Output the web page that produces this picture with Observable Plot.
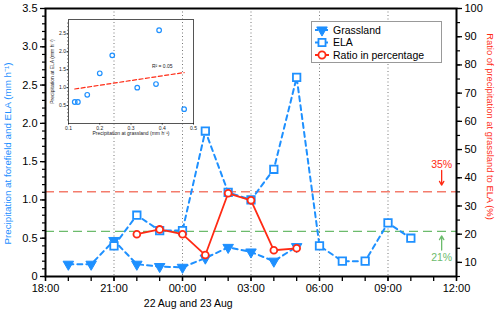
<!DOCTYPE html>
<html><head><meta charset="utf-8">
<script src="https://cdn.jsdelivr.net/npm/d3@7"></script>
<script src="https://cdn.jsdelivr.net/npm/@observablehq/plot@0.6"></script>
<style>
body{margin:0;background:#fff;font-family:"Liberation Sans",Arial,sans-serif;}
#wrap{position:relative;width:500px;height:312px;overflow:hidden;}
#main{position:absolute;left:0;top:0;}
#inset{position:absolute;left:43px;top:14px;}
#legend{position:absolute;left:311px;top:21px;width:129px;height:40px;border:1px solid #999;background:#fff;box-sizing:content-box;}
</style>
</head><body>
<div id="wrap"><div id="main"></div><div id="inset"></div><div id="legend"></div></div>
<script>
// ---- data ----
const grassHours = [19, 20, 21, 22, 23, 24, 25, 26, 27, 28, 29];
const grassland  = [0.16, 0.16, 0.47, 0.16, 0.13, 0.12, 0.24, 0.38, 0.32, 0.20, 0.39];
const elaHours   = [21, 22, 23, 24, 25, 26, 27, 28, 29, 30, 31, 32, 33, 34];
const ela        = [0.4, 0.8, 0.6, 0.6, 1.9, 1.1, 1.0, 1.4, 2.6, 0.4, 0.2, 0.2, 0.7, 0.5];
const ratioHours = [22, 23, 24, 25, 26, 27, 28, 29];
const ratio      = [20, 21.7, 20, 12.6, 34.5, 32, 14.3, 15];
const thresholds = [35, 21];
const xTicks = [18, 21, 24, 27, 30, 33, 36];
const gridHours = [21, 24, 27, 30, 33];
const leftTicks = [0, 0.5, 1, 1.5, 2, 2.5, 3, 3.5];
const rightTicks = [10, 20, 30, 40, 50, 60, 70, 80, 90, 100];
const insetXTicks = [0.1, 0.2, 0.3, 0.4, 0.5];
const insetYTicks = [0.5, 1.0, 1.5, 2.0, 2.5];
const rSquaredLabel = "R\u00b2 = 0.05";

const BLUE = "#1e90ff", RED = "#ff2a14", SALMON = "#f47c6c", GREEN = "#6cbb6c";
const rightDomain = [5, 100], leftDomain = [0, 3.5];
const toLeft = r => (r - rightDomain[0]) / (rightDomain[1] - rightDomain[0]) * (leftDomain[1] - leftDomain[0]);
const fromLeft = v => v / (leftDomain[1] - leftDomain[0]) * (rightDomain[1] - rightDomain[0]) + rightDomain[0];
const fmtHour = h => String(h % 24).padStart(2, "0") + ":00";

const grassRows = grassHours.map((h, i) => ({h, v: grassland[i]}));
const elaRows = elaHours.map((h, i) => ({h, v: ela[i]}));
const ratioRows = ratioHours.map((h, i) => ({h, v: toLeft(ratio[i])}));

const triDown = {
  draw(ctx, size) {
    const a = Math.sqrt(4 * size / Math.sqrt(3)), hh = Math.sqrt(3) / 2 * a;
    ctx.moveTo(-a / 2, -hh / 3); ctx.lineTo(a / 2, -hh / 3); ctx.lineTo(0, 2 * hh / 3); ctx.closePath();
  }
};

const main = Plot.plot({
  width: 500, height: 312,
  marginLeft: 45, marginRight: 44, marginTop: 8, marginBottom: 36,
  style: {fontFamily: "Liberation Sans, Arial, sans-serif", fontSize: "11px", color: "black", background: "transparent", overflow: "visible"},
  x: {domain: [18, 36], label: null},
  y: {domain: leftDomain, label: null},
  marks: [
    Plot.ruleX(gridHours, {stroke: "#777", strokeDasharray: "1,2.5", strokeWidth: 1}),
    Plot.ruleY([toLeft(thresholds[0])], {stroke: SALMON, strokeDasharray: "9,5", strokeWidth: 1.5}),
    Plot.ruleY([toLeft(thresholds[1])], {stroke: GREEN, strokeDasharray: "9,5", strokeWidth: 1.3}),
    Plot.line(grassRows, {x: "h", y: "v", stroke: BLUE, strokeWidth: 2, strokeDasharray: "5,4"}),
    Plot.line(elaRows, {x: "h", y: "v", stroke: BLUE, strokeWidth: 2, strokeDasharray: "5,4"}),
    Plot.dot(grassRows, {x: "h", y: "v", symbol: triDown, r: 3.9, fill: BLUE, stroke: BLUE, strokeWidth: 1}),
    Plot.dot(elaRows, {x: "h", y: "v", symbol: "square", r: 4.2, fill: "white", stroke: BLUE, strokeWidth: 1.8}),
    Plot.line(ratioRows, {x: "h", y: "v", stroke: RED, strokeWidth: 1.8}),
    Plot.dot(ratioRows, {x: "h", y: "v", symbol: "circle", r: 3.4, fill: "white", stroke: RED, strokeWidth: 1.8}),
    // threshold annotations
    Plot.text([thresholds[0] + "%"], {x: 35.35, y: toLeft(44.7), fill: RED, fontSize: 10.5}),
    Plot.arrow([0], {x1: 35.35, y1: toLeft(42.6), x2: 35.35, y2: toLeft(37.4), stroke: RED, strokeWidth: 1.3, headLength: 5}),
    Plot.text([thresholds[1] + "%"], {x: 35.35, y: toLeft(11.8), fill: GREEN, fontSize: 10.5}),
    Plot.arrow([0], {x1: 35.35, y1: toLeft(14.4), x2: 35.35, y2: toLeft(19.4), stroke: GREEN, strokeWidth: 1.3, headLength: 5}),
    // axes
    Plot.axisX({ticks: xTicks, tickFormat: fmtHour, tickSize: 5, tickPadding: 3, stroke: "black", strokeWidth: 1.3}),
    Plot.axisX({ticks: d3.range(18, 37, 1), tickFormat: () => "", tickSize: 5, stroke: "black", strokeWidth: 1.3}),
    Plot.axisY({ticks: leftTicks, tickFormat: d => d === 0 ? "0" : d.toFixed(1), tickSize: 5, tickPadding: 3, stroke: "black", strokeWidth: 1.3}),
    Plot.axisY({ticks: d3.range(0, 35).map(i => i / 10), tickFormat: () => "", tickSize: 3, stroke: "black", strokeWidth: 1.2}),
    Plot.axisY({anchor: "right", ticks: rightTicks.map(toLeft), tickFormat: d => String(Math.round(fromLeft(d))), tickSize: 5, tickPadding: 3, stroke: "black", strokeWidth: 1.3}),
    Plot.axisY({anchor: "right", ticks: d3.range(5, 101, 5).map(toLeft), tickFormat: () => "", tickSize: 3, stroke: "black", strokeWidth: 1.2}),
    Plot.frame({stroke: "black", strokeWidth: 2}),
    // axis titles
    Plot.text(["Precipitation at forefield and ELA (mm h\u207b\u00b9)"], {frameAnchor: "left", textAnchor: "middle", lineAnchor: "middle", rotate: -90, dx: -38, dy: 11, fill: BLUE, fontSize: 9.8}),
    Plot.text(["Ratio of precipitation at grassland to ELA (%)"], {frameAnchor: "right", textAnchor: "middle", lineAnchor: "middle", rotate: 90, dx: 34, dy: -16, fill: RED, fontSize: 9.4}),
    Plot.text(["22 Aug and 23 Aug"], {x: 24.25, frameAnchor: "bottom", lineAnchor: "middle", dy: 27, fill: "black", fontSize: 10.5})
  ]
});
document.getElementById("main").appendChild(main);

// ---- inset scatter ----
const pairs = elaHours.slice(0, 9).map((h, i) => ({g: grassland[grassHours.indexOf(h)], e: ela[i]}));
const inset = Plot.plot({
  width: 155, height: 127,
  marginLeft: 25, marginRight: 5, marginTop: 5, marginBottom: 18,
  style: {fontFamily: "Liberation Sans, Arial, sans-serif", fontSize: "5px", color: "#222", background: "transparent", overflow: "visible"},
  x: {domain: [0.1, 0.5], label: null},
  y: {domain: [0, 2.9], label: null},
  marks: [
    Plot.frame({stroke: "#555", strokeWidth: 1}),
    Plot.linearRegressionY(pairs, {x: "g", y: "e", stroke: RED, strokeDasharray: "4,2.5", strokeWidth: 1.2, ci: 0}),
    Plot.dot(pairs, {x: "g", y: "e", r: 2.3, stroke: BLUE, strokeWidth: 1.2, fill: "none"}),
    Plot.axisX({ticks: insetXTicks, tickFormat: d => d.toFixed(1), tickSize: 1.5, tickPadding: 1, fontSize: 5}),
    Plot.axisY({ticks: insetYTicks, tickFormat: d => d.toFixed(1), tickSize: 1.5, tickPadding: 1, fontSize: 5}),
    Plot.axisY({ticks: d3.range(1, 29).map(i => i / 10), tickFormat: () => "", tickSize: 1, strokeWidth: 0.6}),
    Plot.text([rSquaredLabel], {x: 0.4, y: 1.6, fontSize: 5, fill: "#222"}),
    Plot.text(["Precipitation at grassland (mm h\u207b\u00b9)"], {frameAnchor: "bottom", lineAnchor: "middle", dy: 10, fontSize: 5, fill: "#222"}),
    Plot.text(["Precipitation at ELA (mm h\u207b\u00b9)"], {frameAnchor: "left", textAnchor: "middle", lineAnchor: "middle", rotate: -90, dx: -16, fontSize: 5, fill: "#222"})
  ]
});
document.getElementById("inset").appendChild(inset);

// ---- legend ----
const legendItems = [
  {label: "Grassland", color: BLUE, symbol: triDown, fill: BLUE, dash: "3,2", size: 48, sw: 1},
  {label: "ELA", color: BLUE, symbol: d3.symbolSquare, fill: "white", dash: "3,2", size: 50, sw: 1.8},
  {label: "Ratio in percentage", color: RED, symbol: d3.symbolCircle, fill: "white", dash: null, size: 40, sw: 1.8}
];
const lg = d3.select("#legend").append("svg").attr("width", 129).attr("height", 40);
legendItems.forEach((it, i) => {
  const y = 8 + i * 12.5;
  lg.append("line").attr("x1", 3).attr("x2", 17).attr("y1", y).attr("y2", y)
    .attr("stroke", it.color).attr("stroke-width", 2).attr("stroke-dasharray", it.dash);
  lg.append("path").attr("transform", `translate(10,${y})`)
    .attr("d", d3.symbol(it.symbol, it.size)())
    .attr("fill", it.fill).attr("stroke", it.color).attr("stroke-width", it.sw);
  lg.append("text").attr("x", 21).attr("y", y).attr("dy", "0.35em")
    .attr("font-size", 10.5).attr("font-family", "Liberation Sans, Arial, sans-serif").text(it.label);
});
</script>
</body></html>
